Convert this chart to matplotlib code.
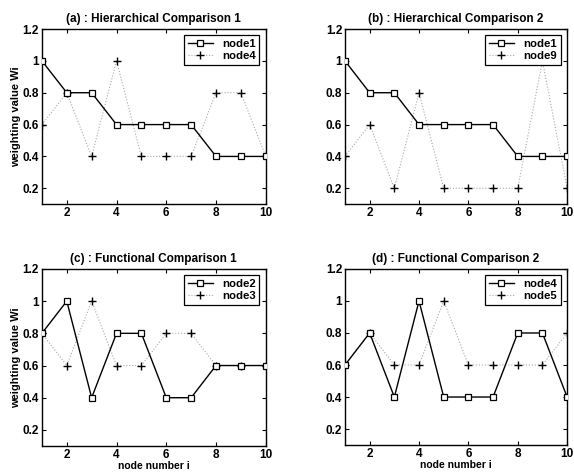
import matplotlib.pyplot as plt
import numpy as np

plt.rcParams['font.family'] = ['Liberation Sans', 'DejaVu Sans']
plt.rcParams['font.weight'] = 'bold'

nodes = np.arange(1, 11)

# (a) hierarchical comparison 1
node1 = [1.0, 0.8, 0.8, 0.6, 0.6, 0.6, 0.6, 0.4, 0.4, 0.4]
node4_a = [0.6, 0.8, 0.4, 1.0, 0.4, 0.4, 0.4, 0.8, 0.8, 0.4]
# (b) hierarchical comparison 2
node9 = [0.4, 0.6, 0.2, 0.8, 0.2, 0.2, 0.2, 0.2, 1.0, 0.2]
# (c) functional comparison 1
node2 = [0.8, 1.0, 0.4, 0.8, 0.8, 0.4, 0.4, 0.6, 0.6, 0.6]
node3 = [0.8, 0.6, 1.0, 0.6, 0.6, 0.8, 0.8, 0.6, 0.6, 0.6]
# (d) functional comparison 2
node4_d = [0.6, 0.8, 0.4, 1.0, 0.4, 0.4, 0.4, 0.8, 0.8, 0.4]
node5 = [0.6, 0.8, 0.6, 0.6, 1.0, 0.6, 0.6, 0.6, 0.6, 0.8]

panels = [
    ("(a) : Hierarchical Comparison 1", node1, node4_a, "node1", "node4"),
    ("(b) : Hierarchical Comparison 2", node1, node9, "node1", "node9"),
    ("(c) : Functional Comparison 1", node2, node3, "node2", "node3"),
    ("(d) : Functional Comparison 2", node4_d, node5, "node4", "node5"),
]

yticks = [0.2, 0.4, 0.6, 0.8, 1.0, 1.2]
ytick_labels = ["0.2", "0.4", "0.6", "0.8", "1", "1.2"]

fig = plt.figure(figsize=(5.74, 4.76), dpi=100)
positions = [
    [0.073, 0.571, 0.390, 0.368],
    [0.601, 0.571, 0.387, 0.368],
    [0.073, 0.063, 0.390, 0.372],
    [0.601, 0.065, 0.387, 0.370],
]

for i, (title, s1, s2, lab1, lab2) in enumerate(panels):
    ax = fig.add_axes(positions[i])
    ax.plot(nodes, s1, color='black', lw=1.0, marker='s', ms=5,
            mfc='white', mec='black', mew=0.9, label=lab1, zorder=3)
    ax.plot(nodes, s2, color='#a8a8a8', lw=0.8, ls=':', marker='+', ms=6,
            mec='black', mew=1.0, label=lab2, zorder=2)
    ax.set_xlim(1, 10)
    ax.set_ylim(0.1, 1.2)
    ax.set_xticks([2, 4, 6, 8, 10])
    ax.set_yticks(yticks)
    ax.set_yticklabels(ytick_labels)
    ax.tick_params(direction='in', top=True, right=True, labelsize=8.5,
                   length=3, width=0.8, pad=2)
    for sp in ax.spines.values():
        sp.set_linewidth(1.0)
    ax.set_title(title, fontsize=8.5, fontweight='bold', pad=5)
    if i % 2 == 0:
        ax.set_ylabel("weighting value Wi", fontsize=8, fontweight='bold', labelpad=1)
    if i >= 2:
        ax.set_xlabel("node number i", fontsize=7.5, fontweight='bold', labelpad=0)
    leg = ax.legend(loc='upper right', fontsize=8.2, handlelength=2.2,
                    frameon=True, fancybox=False, edgecolor='black',
                    borderpad=0.35, labelspacing=0.15, handletextpad=0.8,
                    borderaxespad=0.55, framealpha=1)
    leg.get_frame().set_linewidth(0.9)
    leg.set_zorder(10)

fig.savefig("out.png", dpi=100)
